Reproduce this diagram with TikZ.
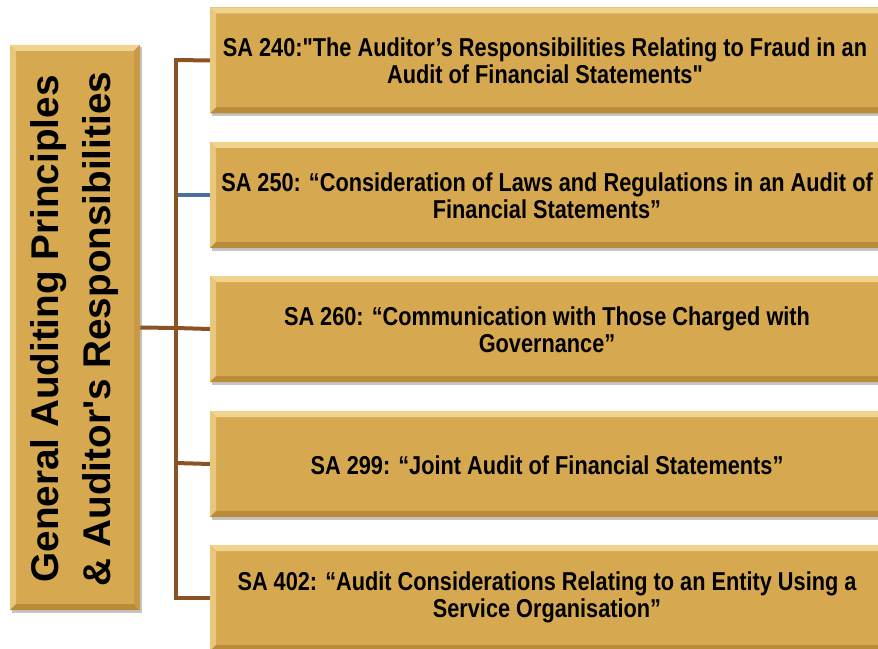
\documentclass[tikz,border=0pt]{standalone}
\usepackage{fontspec}
\setmainfont{Liberation Sans}
\newfontfamily\narrowfont[FakeStretch=0.84]{Liberation Sans}
\usetikzlibrary{shadows}
\definecolor{gold}{HTML}{D6A951}
\definecolor{goldlight}{HTML}{F0D48E}
\definecolor{golddark}{HTML}{BA8C3A}
\definecolor{goldside}{HTML}{C89A45}
\definecolor{brownline}{HTML}{8B5223}
\definecolor{blueline}{HTML}{4A6FA5}
\tikzset{
  bevel/.style={path picture={
    \fill[goldlight] (path picture bounding box.north west) -- (path picture bounding box.north east)
      -- ([xshift=-4.5pt,yshift=-4.5pt]path picture bounding box.north east)
      -- ([xshift=4.5pt,yshift=-4.5pt]path picture bounding box.north west) -- cycle;
    \fill[goldlight!70!gold] (path picture bounding box.north west) -- (path picture bounding box.south west)
      -- ([xshift=4.5pt,yshift=4.5pt]path picture bounding box.south west)
      -- ([xshift=4.5pt,yshift=-4.5pt]path picture bounding box.north west) -- cycle;
    \fill[golddark] (path picture bounding box.south west) -- (path picture bounding box.south east)
      -- ([xshift=-4.5pt,yshift=4.5pt]path picture bounding box.south east)
      -- ([xshift=4.5pt,yshift=4.5pt]path picture bounding box.south west) -- cycle;
    \fill[goldside] (path picture bounding box.north east) -- (path picture bounding box.south east)
      -- ([xshift=-4.5pt,yshift=4.5pt]path picture bounding box.south east)
      -- ([xshift=-4.5pt,yshift=-4.5pt]path picture bounding box.north east) -- cycle;
  }},
  goldbox/.style={rectangle, fill=gold, bevel, inner sep=0pt,
    drop shadow={shadow xshift=1.5pt, shadow yshift=-2pt, fill=black!45, opacity=0.5}},
  sabox/.style={goldbox, minimum width=506pt, minimum height=79.5pt},
  satext/.style={align=center, font=\narrowfont\bfseries\fontsize{19.4}{20.4}\selectfont, text=black},
  mainbox/.style={goldbox, minimum width=97.5pt, minimum height=424pt},
  conn/.style={draw=brownline, line width=3pt},
  bconn/.style={draw=blueline, line width=2.6pt}
}
\begin{document}
\begin{tikzpicture}[x=0.75pt,y=-0.75pt]
\useasboundingbox (0,0) rectangle (878,649);
\clip (0,0) rectangle (878,649);
% left main box
\node[mainbox] (main) at (75,327.5) {};
\node[rotate=90, align=center, font=\bfseries\fontsize{29}{39}\selectfont] (maintext) at (75,329)
  {General Auditing Principles\\ \& Auditor\textquotesingle s Responsibilities};
% trunk coordinates
\coordinate (t0) at (176,328);
\coordinate (t1) at (176,60);
\coordinate (t2) at (176,195);
\coordinate (t3) at (176,328);
\coordinate (t4) at (176,463);
\coordinate (t5) at (176,598);
% boxes
\node[sabox] (b1) at (547.5,60.5) {};
\node[sabox] (b2) at (547.5,195) {};
\node[sabox] (b3) at (547.5,329) {};
\node[sabox] (b4) at (547.5,464) {};
\node[sabox] (b5) at (547.5,598) {};
% connectors
\draw[bconn] (t2) -- (b2.west);
\draw[conn] (main.east) -- (t0);
\draw[conn, line cap=rect] (t1) -- (t5);
\draw[conn] (t1) -- (b1.west);
\draw[conn] (t3) -- (b3.west);
\draw[conn] (t4) -- (b4.west);
\draw[conn] (t5) -- (b5.west);
% texts
\node[satext] (x1) at (545,61) {SA 240:"The Auditor’s Responsibilities Relating to Fraud in an\\Audit of Financial Statements"};
\node[satext] (x2) at (547,196) {SA 250: “Consideration of Laws and Regulations in an Audit of\\Financial Statements”};
\node[satext] (x3) at (547,330) {SA 260: “Communication with Those Charged with\\Governance”};
\node[satext] (x4) at (547,465) {SA 299: “Joint Audit of Financial Statements”};
\node[satext] (x5) at (547,597) {SA 402: “Audit Considerations Relating to an Entity Using a\\Service Organisation”};
\end{tikzpicture}
\end{document}
